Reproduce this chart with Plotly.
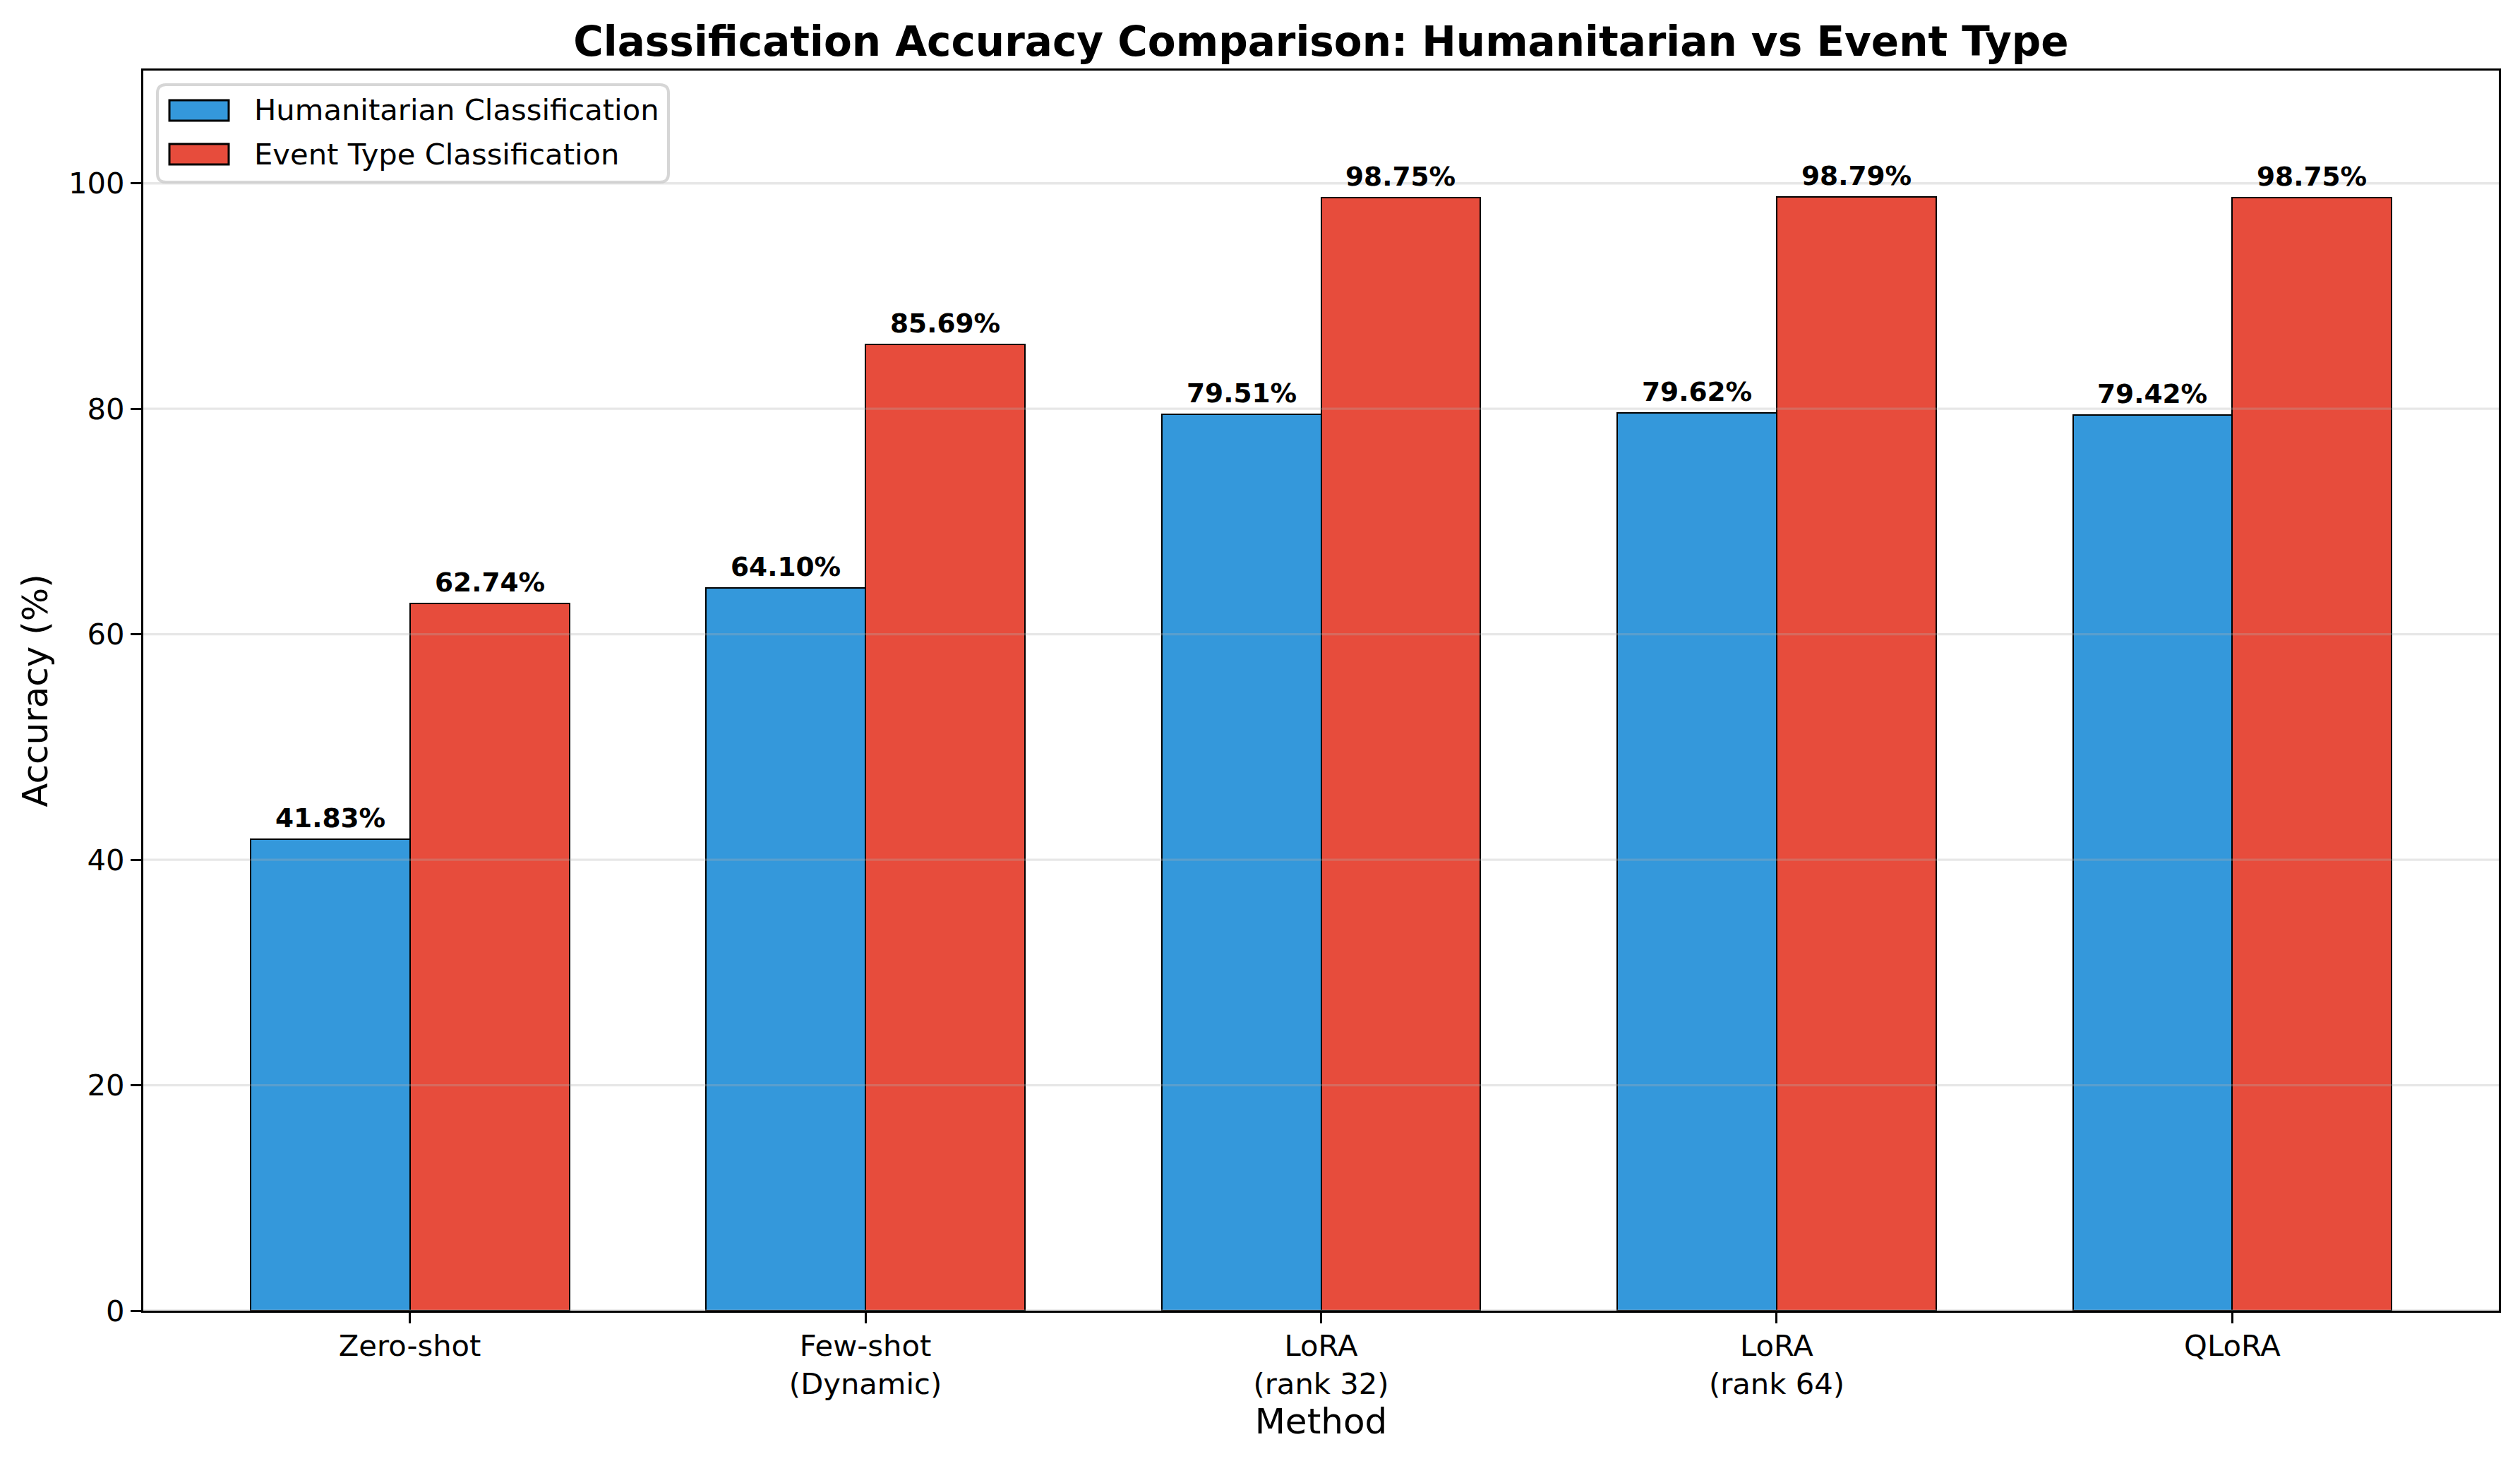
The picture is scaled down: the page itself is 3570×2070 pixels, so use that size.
import plotly.graph_objects as go
import numpy as np

# ---- data ----
methods = ["Zero-shot", "Few-shot<br>(Dynamic)", "LoRA<br>(rank 32)", "LoRA<br>(rank 64)", "QLoRA"]
humanitarian = [41.83, 64.10, 79.51, 79.62, 79.42]
event_type = [62.74, 85.69, 98.75, 98.79, 98.75]
series_names = ["Humanitarian Classification", "Event Type Classification"]
y_ticks = [0, 20, 40, 60, 80, 100]

# ---- style ----
W, H = 3570, 2070
ML, MR, MT, MB = 203, 30, 100, 213
PW, PH = W - ML - MR, H - MT - MB
FONT = "DejaVu Sans"
BLUE, RED = "#3498db", "#e74c3c"
bar_w = 0.35

idx = np.arange(len(methods))
fig = go.Figure()
for vals, color, off, name in [(humanitarian, BLUE, -bar_w / 2, series_names[0]),
                               (event_type, RED, bar_w / 2, series_names[1])]:
    fig.add_trace(go.Bar(x=idx + off, y=vals, width=bar_w, name=name,
                         marker=dict(color=color, line=dict(color="black", width=2)),
                         showlegend=False))
    for xi, v in zip(idx + off, vals):
        fig.add_annotation(x=xi, y=v, xref="x", yref="y", text=f"<b>{v:.2f}%</b>",
                           showarrow=False, yanchor="bottom", xanchor="center", yshift=6,
                           font=dict(family=FONT, size=37.5, color="black"))

# grid lines above bars (translucent)
for t in y_ticks:
    fig.add_shape(type="line", xref="paper", yref="y", x0=0, x1=1, y0=t, y1=t,
                  line=dict(color="rgba(176,176,176,0.3)", width=3.3), layer="above")

def px_x(px):
    return (px - ML) / PW

def px_y(py):
    return 1 - (py - MT) / PH

# manual legend (matplotlib style)
lx0, lx1, ly0, ly1 = 223, 947, 120, 258
r = 12
rx, ry = r / PW, r / PH
X0, X1, Y0, Y1 = px_x(lx0), px_x(lx1), px_y(ly1), px_y(ly0)
path = (f"M{X0+rx},{Y0} L{X1-rx},{Y0} Q{X1},{Y0} {X1},{Y0+ry} L{X1},{Y1-ry} Q{X1},{Y1} {X1-rx},{Y1} "
        f"L{X0+rx},{Y1} Q{X0},{Y1} {X0},{Y1-ry} L{X0},{Y0+ry} Q{X0},{Y0} {X0+rx},{Y0} Z")
fig.add_shape(type="path", path=path, xref="paper", yref="paper",
              fillcolor="rgba(255,255,255,0.8)", line=dict(color="rgba(204,204,204,0.8)", width=4),
              layer="above")
for (py0, py1, pcy), color, name in [((142, 171, 156), BLUE, series_names[0]),
                                     ((204, 233, 218), RED, series_names[1])]:
    fig.add_shape(type="rect", xref="paper", yref="paper",
                  x0=px_x(240), x1=px_x(324), y0=px_y(py1), y1=px_y(py0),
                  fillcolor=color, line=dict(color="black", width=3), layer="above")
    fig.add_annotation(xref="paper", yref="paper", x=px_x(358), y=px_y(pcy), text=name,
                       showarrow=False, xanchor="left", yanchor="middle",
                       font=dict(family=FONT, size=41.7, color="black"))

fig.update_layout(
    width=W, height=H, autosize=False,
    margin=dict(l=ML, r=MR, t=MT, b=MB, pad=0, autoexpand=False),
    plot_bgcolor="white", paper_bgcolor="white",
    font=dict(family=FONT, color="black", size=41.7),
    title=dict(text="<b>Classification Accuracy Comparison: Humanitarian vs Event Type</b>",
               x=0.5, xref="paper", xanchor="center", y=1 - 59 / H, yref="container", yanchor="middle",
               font=dict(family=FONT, size=58, color="black")),
    bargap=0, showlegend=False,
    xaxis=dict(range=[-0.585, len(methods) - 1 + 0.585], tickvals=idx, ticktext=methods,
               showgrid=False, zeroline=False, showline=True, linecolor="black", linewidth=3.3,
               mirror=True, ticks="outside", ticklen=15, tickwidth=3.3, tickcolor="black",
               automargin=False, ticklabelstandoff=-4,
               tickfont=dict(family=FONT, size=41.7, color="black"),
               title=dict(text="Method", font=dict(family=FONT, size=50, color="black"), standoff=6)),
    yaxis=dict(range=[0, 110], tickvals=y_ticks, showgrid=False, zeroline=False,
               showline=True, linecolor="black", linewidth=3.3, mirror=True,
               ticks="outside", ticklen=15, tickwidth=3.3, tickcolor="black",
               automargin=False,
               tickfont=dict(family=FONT, size=41.7, color="black"),
               title=dict(text="Accuracy (%)", font=dict(family=FONT, size=50, color="black"), standoff=14)),
)

fig.write_html("out.html", config={"displayModeBar": False},
               post_script="document.body.style.margin='0';document.body.style.overflow='hidden';")
